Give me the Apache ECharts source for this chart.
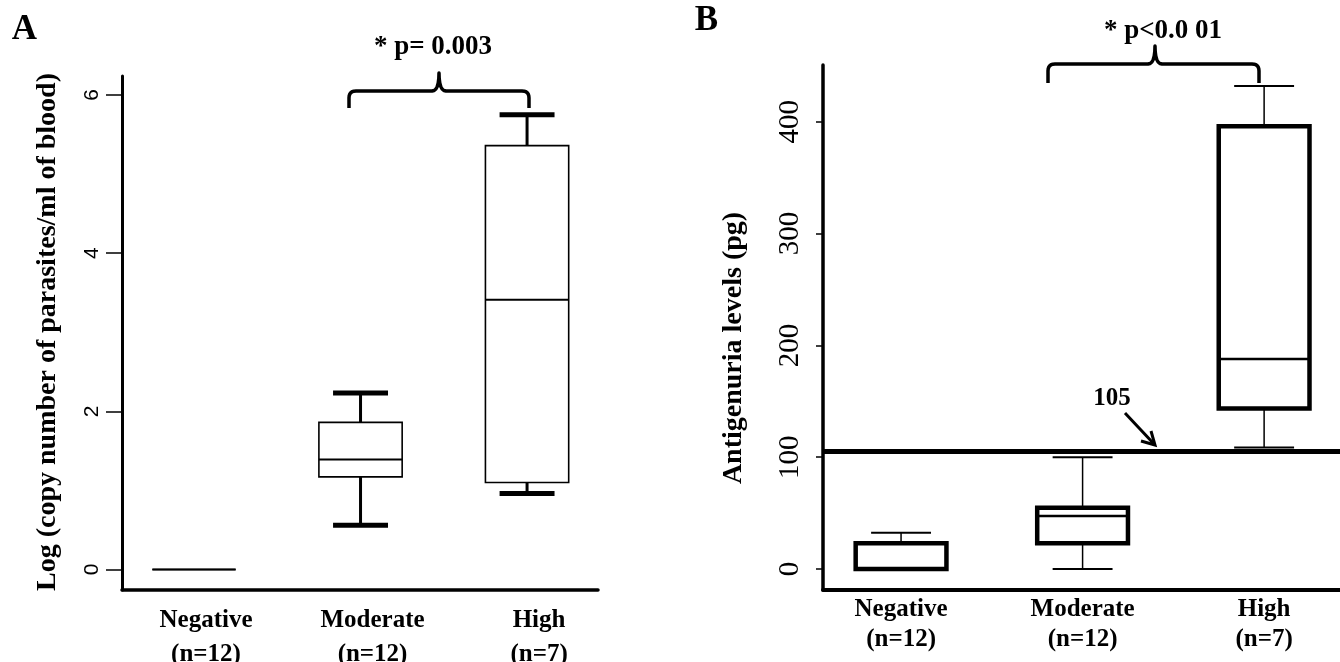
<!DOCTYPE html>
<html>
<head>
<meta charset="utf-8">
<script src="https://cdn.jsdelivr.net/npm/echarts@6/dist/echarts.min.js"></script>
<style>
html,body{margin:0;padding:0;background:#fff;}
#c{width:1340px;height:662px;}
</style>
</head>
<body>
<div id="c"></div>
<script>
// ---------- data ----------
const categories = ['Negative', 'Moderate', 'High'];
const groupSizes = ['(n=12)', '(n=12)', '(n=7)'];

// Panel A: Log (copy number of parasites/ml of blood)
const parasiteMin    = [0, 0.56, 0.96];
const parasiteQ1     = [0, 1.17, 1.10];
const parasiteMedian = [0, 1.39, 3.41];
const parasiteQ3     = [0, 1.86, 5.36];
const parasiteMax    = [0, 2.23, 5.75];
const parasiteTicks  = [0, 2, 4, 6];

// Panel B: Antigenuria levels (pg)
const antigenMin    = [0, 0, 108.6];
const antigenQ1     = [0, 23, 143.5];
const antigenMedian = [0, 47.3, 187.8];
const antigenQ3     = [23, 54.8, 396];
const antigenMax    = [32.4, 100, 432];
const antigenTicks  = [0, 100, 200, 300, 400];
const antigenCutoff = 105;

const pValueA = '* p= 0.003';
const pValueB = '* p<0.0 01';
const cutoffLabel = '105';
const titleA = 'Log (copy number of parasites/ml of blood)';
const titleB = 'Antigenuria levels (pg)';

// ---------- helpers ----------
const SERIF = '"Liberation Serif", "Times New Roman", serif';
const SANS = '"Liberation Sans", Arial, sans-serif';

function boxData(mins, q1s, meds, q3s, maxs) {
  return categories.map((c, i) => [i + 1, mins[i], q1s[i], meds[i], q3s[i], maxs[i]]);
}

function makeRender(st) {
  return function (params, api) {
    const x = api.value(0);
    const vMin = api.value(1), vQ1 = api.value(2), vMed = api.value(3), vQ3 = api.value(4), vMax = api.value(5);
    const cx = api.coord([x, vMed])[0];
    const y = v => api.coord([x, v])[1];
    const half = api.size([st.boxWidth, 0])[0] / 2;
    const capHalf = api.size([st.capWidth, 0])[0] / 2;
    const children = [];
    if (vMax > vQ3) {
      children.push({type: 'line', shape: {x1: cx, y1: y(vQ3), x2: cx, y2: y(vMax)}, style: {stroke: '#000', lineWidth: st.whisker}});
    }
    if (vMin < vQ1) {
      children.push({type: 'line', shape: {x1: cx, y1: y(vQ1), x2: cx, y2: y(vMin)}, style: {stroke: '#000', lineWidth: st.whisker}});
    }
    children.push({type: 'rect', shape: {x: cx - half, y: y(vQ3), width: 2 * half, height: y(vQ1) - y(vQ3)},
      style: {fill: '#fff', stroke: '#000', lineWidth: st.box}});
    children.push({type: 'line', shape: {x1: cx - half, y1: y(vMed), x2: cx + half, y2: y(vMed)}, style: {stroke: '#000', lineWidth: st.median}});
    if (vMax > vQ3) {
      children.push({type: 'line', shape: {x1: cx - capHalf, y1: y(vMax), x2: cx + capHalf, y2: y(vMax)}, style: {stroke: '#000', lineWidth: st.cap}});
    }
    if (vMin < vQ1) {
      children.push({type: 'line', shape: {x1: cx - capHalf, y1: y(vMin), x2: cx + capHalf, y2: y(vMin)}, style: {stroke: '#000', lineWidth: st.cap}});
    }
    return {type: 'group', children: children};
  };
}

function catFormatter(v) {
  const i = Math.round(v) - 1;
  return categories[i] + '\n' + groupSizes[i];
}

// curly bracket outline as a polyline (left tip, top level, notch, right tip)
function quad(p0, p1, p2, n) {
  const pts = [];
  for (let k = 1; k <= n; k++) {
    const t = k / n, u = 1 - t;
    pts.push([u * u * p0[0] + 2 * u * t * p1[0] + t * t * p2[0], u * u * p0[1] + 2 * u * t * p1[1] + t * t * p2[1]]);
  }
  return pts;
}
function bracePoints(xl, xm, xr, yTip, yTop, yNotch) {
  const r = 7;
  let pts = [[xl, yTip], [xl, yTop + r]];
  pts = pts.concat(quad([xl, yTop + r], [xl, yTop], [xl + r, yTop], 6));
  pts.push([xm - r, yTop]);
  pts = pts.concat(quad([xm - r, yTop], [xm, yTop], [xm, yNotch], 6));
  pts = pts.concat(quad([xm, yNotch], [xm, yTop], [xm + r, yTop], 6));
  pts.push([xr - r, yTop]);
  pts = pts.concat(quad([xr - r, yTop], [xr, yTop], [xr, yTop + r], 6));
  pts.push([xr, yTip]);
  return pts;
}

const chart = echarts.init(document.getElementById('c'));

const option = {
  animation: false,
  backgroundColor: '#fff',
  grid: [
    {left: 122, top: 76, width: 476, height: 514, containLabel: false, outerBoundsMode: 'none'},
    {left: 823, top: 65, width: 517, height: 525, containLabel: false, outerBoundsMode: 'none'}
  ],
  xAxis: [
    {
      type: 'value', gridIndex: 0, min: 0.5676, max: 3.426,
      splitLine: {show: false},
      axisLine: {show: true, onZero: false, lineStyle: {color: '#000', width: 3.5}},
      axisTick: {show: false},
      axisLabel: {
        customValues: [1, 2, 3], formatter: catFormatter,
        fontFamily: SERIF, fontWeight: 'bold', fontSize: 25, color: '#000',
        lineHeight: 34, margin: 14, padding: [0, 0, 0, 24]
      }
    },
    {
      type: 'value', gridIndex: 1, min: 0.570, max: 3.418,
      splitLine: {show: false},
      axisLine: {show: true, onZero: false, lineStyle: {color: '#000', width: 4}},
      axisTick: {show: false},
      axisLabel: {
        customValues: [1, 2, 3], formatter: catFormatter,
        fontFamily: SERIF, fontWeight: 'bold', fontSize: 25, color: '#000',
        lineHeight: 30, margin: 5
      }
    }
  ],
  yAxis: [
    {
      type: 'value', gridIndex: 0, min: -0.26, max: 6.24,
      splitLine: {show: false},
      axisLine: {show: true, onZero: false, lineStyle: {color: '#000', width: 3}},
      axisTick: {show: true, customValues: parasiteTicks, length: 16, lineStyle: {color: '#000', width: 1.5}},
      axisLabel: {customValues: parasiteTicks, rotate: 90, fontFamily: SANS, fontSize: 21, color: '#000', margin: 19}
    },
    {
      type: 'value', gridIndex: 1, min: -18.8, max: 450.8,
      splitLine: {show: false},
      axisLine: {show: true, onZero: false, lineStyle: {color: '#000', width: 3.5}},
      axisTick: {show: true, customValues: antigenTicks, length: 7, lineStyle: {color: '#000', width: 1.5}},
      axisLabel: {customValues: antigenTicks, rotate: 90, fontFamily: SERIF, fontSize: 29, color: '#000', margin: 18}
    }
  ],
  series: [
    {
      name: 'Parasite load', type: 'custom', xAxisIndex: 0, yAxisIndex: 0,
      renderItem: makeRender({boxWidth: 0.5, capWidth: 0.33, box: 1.6, median: 2, whisker: 3, cap: 5}),
      encode: {x: 0, y: [1, 2, 3, 4, 5]},
      data: boxData(parasiteMin, parasiteQ1, parasiteMedian, parasiteQ3, parasiteMax)
    },
    {
      name: 'Antigenuria', type: 'custom', xAxisIndex: 1, yAxisIndex: 1,
      renderItem: makeRender({boxWidth: 0.5, capWidth: 0.33, box: 4.5, median: 2.5, whisker: 1.5, cap: 2}),
      encode: {x: 0, y: [1, 2, 3, 4, 5]},
      data: boxData(antigenMin, antigenQ1, antigenMedian, antigenQ3, antigenMax),
      markLine: {
        silent: true, symbol: ['none', 'none'], label: {show: false},
        lineStyle: {color: '#000', width: 5, type: 'solid'},
        data: [{yAxis: antigenCutoff}]
      }
    }
  ],
  graphic: [
    {type: 'text', x: 24.5, y: 30, style: {text: 'A', font: 'bold 35px ' + SERIF, fill: '#000', align: 'center', verticalAlign: 'middle'}},
    {type: 'text', x: 706.5, y: 21, style: {text: 'B', font: 'bold 35px ' + SERIF, fill: '#000', align: 'center', verticalAlign: 'middle'}},
    {type: 'text', x: 433, y: 47, style: {text: pValueA, font: 'bold 27px ' + SERIF, fill: '#000', align: 'center', verticalAlign: 'middle'}},
    {type: 'text', x: 1163, y: 31, style: {text: pValueB, font: 'bold 27px ' + SERIF, fill: '#000', align: 'center', verticalAlign: 'middle'}},
    {type: 'text', x: 1112, y: 399, style: {text: cutoffLabel, font: 'bold 25px ' + SERIF, fill: '#000', align: 'center', verticalAlign: 'middle'}},
    {type: 'text', x: 48, y: 332, rotation: Math.PI / 2, style: {text: titleA, font: 'bold 28px ' + SERIF, fill: '#000', align: 'center', verticalAlign: 'middle'}},
    {type: 'text', x: 734, y: 348, rotation: Math.PI / 2, style: {text: titleB, font: 'bold 28px ' + SERIF, fill: '#000', align: 'center', verticalAlign: 'middle'}},
    {type: 'polyline', shape: {points: bracePoints(349, 439, 529, 108, 91, 73)},
      style: {fill: null, stroke: '#000', lineWidth: 3.5, lineJoin: 'round'}},
    {type: 'polyline', shape: {points: bracePoints(1048, 1155, 1259, 83, 64, 46)},
      style: {fill: null, stroke: '#000', lineWidth: 3.5, lineJoin: 'round'}},
    {type: 'line', shape: {x1: 1125, y1: 413, x2: 1154, y2: 444}, style: {stroke: '#000', lineWidth: 3}},
    {type: 'polyline', shape: {points: [[1141, 441], [1155, 445], [1151, 431]]}, style: {fill: null, stroke: '#000', lineWidth: 3}}
  ]
};

chart.setOption(option);
</script>
</body>
</html>
